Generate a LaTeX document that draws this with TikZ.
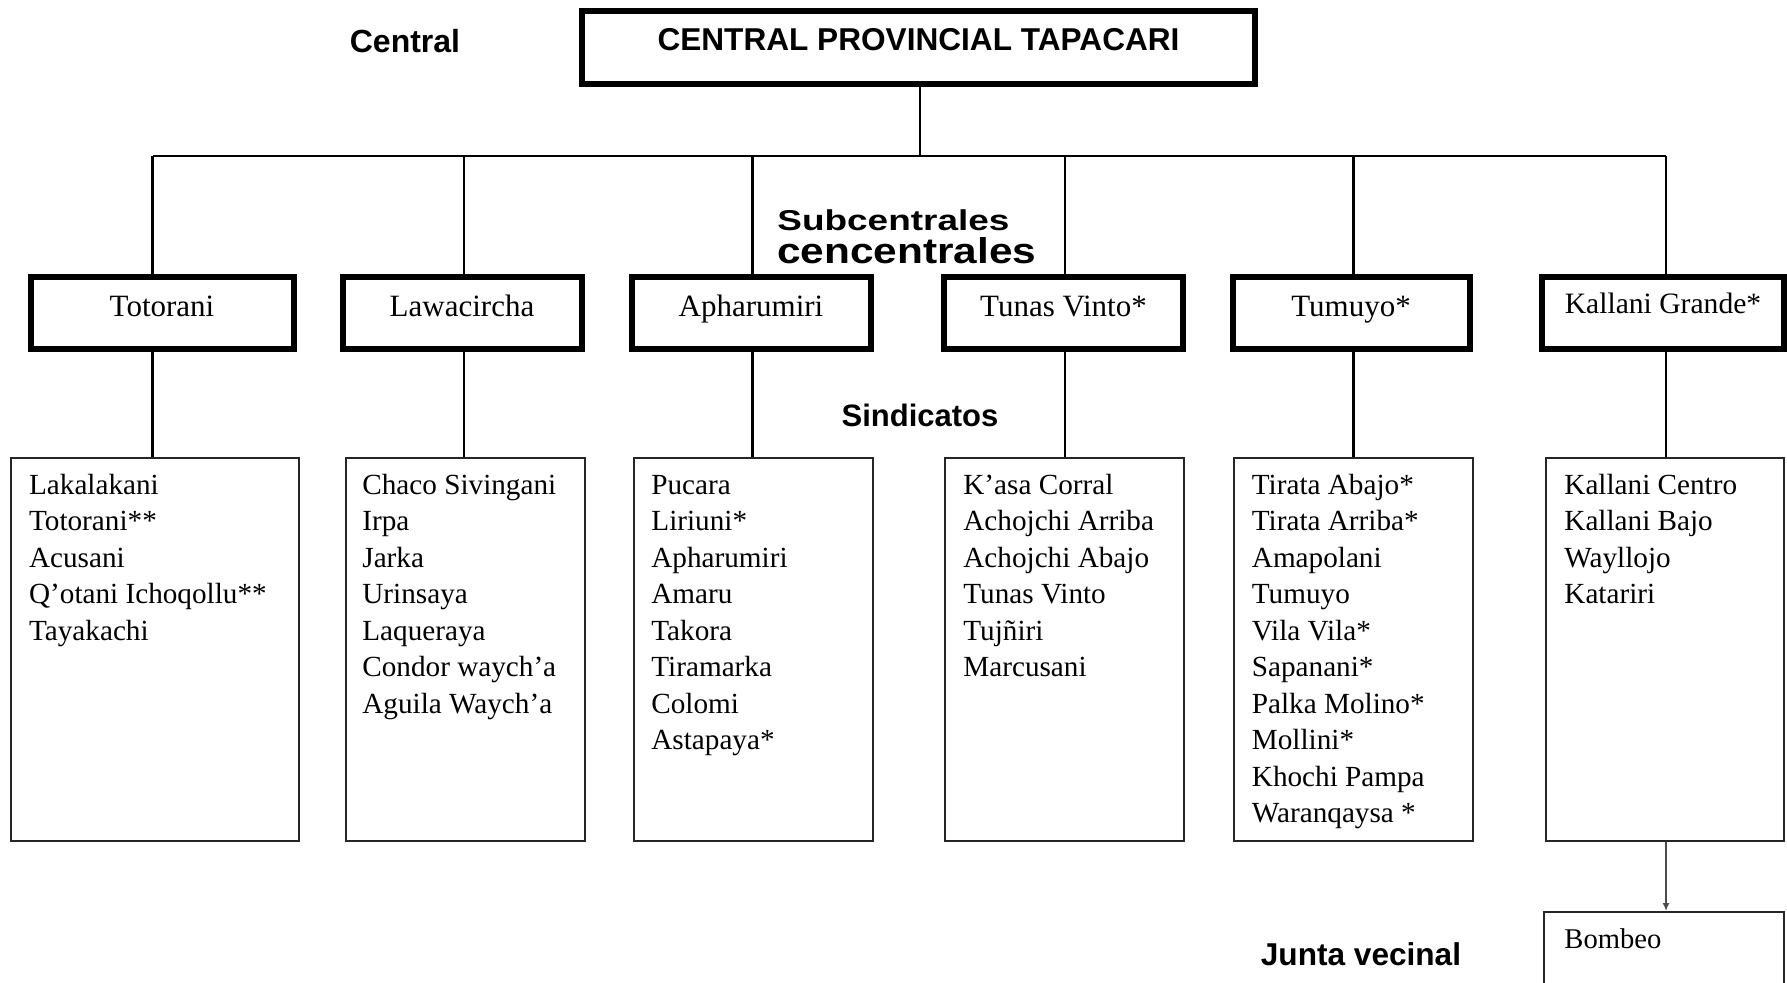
\documentclass[tikz,border=0pt]{standalone}
\usepackage{fontspec}
\usepackage{graphicx}
\setmainfont{Liberation Serif}
\newfontfamily\labelsans{Liberation Sans}
\usetikzlibrary{arrows.meta}

\begin{document}
\begin{tikzpicture}[x=0.5pt,y=-0.5pt,
  heavybox/.style={draw, line width=3pt, rectangle, inner sep=0pt, outer sep=0pt},
  subbox/.style={heavybox, minimum height=36pt, text height=8pt, text depth=4.5pt,
                 font=\fontsize{15.5pt}{18pt}\selectfont},
  listbox/.style={draw=black!85, line width=1pt, rectangle, inner sep=0pt,
                  minimum height=191.5pt},
  listtext/.style={anchor=north west, inner sep=0pt, align=left,
                   font=\fontsize{14.6pt}{18.25pt}\selectfont},
  tierlabel/.style={anchor=base, inner sep=0pt,
                    font=\labelsans\bfseries\fontsize{15.8pt}{19pt}\selectfont},
  conn/.style={line width=1.35pt, black},
  arrowline/.style={line width=1.2pt, black!70, -{Latex[length=4pt,width=3.5pt]}}
]
\useasboundingbox (0,0) rectangle (1787,982);
\clip (0,0) rectangle (1787,982);

% top level
\node[heavybox, minimum width=336.5pt, minimum height=36.5pt,
      text height=8pt, text depth=4.8pt,
      font=\labelsans\bfseries\fontsize{15.8pt}{19pt}\selectfont]
  (top) at (918.5,47.5) {CENTRAL PROVINCIAL TAPACARI};

% tier labels
\node[tierlabel, font=\labelsans\bfseries\fontsize{16pt}{19pt}\selectfont]
  (lblcentral) at (405,52.5) {Central};
\node[anchor=base west, inner sep=0pt, font=\labelsans\bfseries]
  (lblsub1) at (777,230) {\resizebox{116pt}{10.4pt}{Subcentrales}};
\node[anchor=base west, inner sep=0pt, font=\labelsans\bfseries]
  (lblsub2) at (777,263) {\resizebox{129.5pt}{13pt}{cencentrales}};
\node[tierlabel, font=\labelsans\bfseries\fontsize{15.5pt}{19pt}\selectfont]
  (lblsind) at (920,426) {Sindicatos};
\node[tierlabel] (lbljunta) at (1361,965) {Junta vecinal};

% subcentrales
\node[subbox, minimum width=131.5pt] (s1) at (162,313)    {Totorani};
\node[subbox, minimum width=119.5pt] (s2) at (462,313)    {Lawacircha};
\node[subbox, minimum width=119.5pt] (s3) at (751,313)    {Apharumiri};
\node[subbox, minimum width=119.5pt] (s4) at (1063.5,313) {Tunas Vinto*};
\node[subbox, minimum width=118.5pt] (s5) at (1351,313)   {Tumuyo*};
\node[subbox, minimum width=121pt, text height=6pt, text depth=6pt,
      font=\fontsize{14.8pt}{18pt}\selectfont] (s6) at (1663,313) {Kallani Grande*};

% sindicatos boxes
\node[listbox, minimum width=143.75pt] (l1) at (154.75,649)  {};
\node[listbox, minimum width=119.4pt]  (l2) at (465.2,649)   {};
\node[listbox, minimum width=119.7pt]  (l3) at (753.4,649)   {};
\node[listbox, minimum width=119.5pt]  (l4) at (1064.5,649)  {};
\node[listbox, minimum width=119.75pt] (l5) at (1353.25,649) {};
\node[listbox, minimum width=119pt]    (l6) at (1665,649)    {};

\node[listtext] (t1) at (28.7,472) {\rule{0pt}{11pt}Lakalakani\\Totorani**\\Acusani\\Q’otani Ichoqollu**\\Tayakachi};
\node[listtext] (t2) at (362,472) {\rule{0pt}{11pt}Chaco Sivingani\\Irpa\\Jarka\\Urinsaya\\Laqueraya\\Condor waych’a\\Aguila Waych’a};
\node[listtext] (t3) at (651,472) {\rule{0pt}{11pt}Pucara\\Liriuni*\\Apharumiri\\Amaru\\Takora\\Tiramarka\\Colomi\\Astapaya*};
\node[listtext] (t4) at (963,472) {\rule{0pt}{11pt}K’asa Corral\\Achojchi Arriba\\Achojchi Abajo\\Tunas Vinto\\Tujñiri\\Marcusani};
\node[listtext] (t5) at (1251.5,472) {\rule{0pt}{11pt}Tirata Abajo*\\Tirata Arriba*\\Amapolani\\Tumuyo\\Vila Vila*\\Sapanani*\\Palka Molino*\\Mollini*\\Khochi Pampa\\Waranqaysa *};
\node[listtext] (t6) at (1564,472) {\rule{0pt}{11pt}Kallani Centro\\Kallani Bajo\\Wayllojo\\Katariri};

% junta vecinal
\node[listbox, minimum width=120pt, minimum height=50pt] (bombeo) at (1664,962) {};
\node[anchor=base west, inner sep=0pt, font=\fontsize{14.3pt}{18pt}\selectfont]
  (tb) at (1564,948) {Bombeo};

% connector tree
\coordinate (hub) at (920,156);
\coordinate (d1) at (152.8,156);
\coordinate (d2) at (464,156);
\coordinate (d3) at (752.7,156);
\coordinate (d4) at (1065,156);
\coordinate (d5) at (1353.7,156);
\coordinate (d6) at (1666,156);

\draw[conn] (hub |- top.south) -- (hub);
\draw[conn] (d1) -- (d6);
\foreach \i in {1,...,6} {
  \draw[conn] (d\i) -- (d\i |- s\i.north);
  \draw[conn] (d\i |- s\i.south) -- (d\i |- l\i.north);
}
\draw[arrowline] (d6 |- l6.south) -- (d6 |- bombeo.north);
\end{tikzpicture}
\end{document}
